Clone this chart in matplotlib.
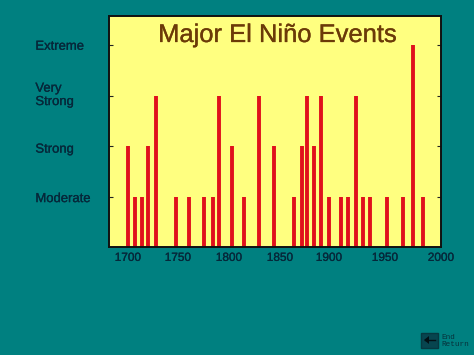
import numpy as np
import matplotlib
matplotlib.use("Agg")
import matplotlib.pyplot as plt
import matplotlib.patheffects as pe
from matplotlib.patches import Rectangle
from matplotlib.transforms import ScaledTranslation

# event years and strength
years = [1700, 1707, 1714, 1720, 1728, 1748, 1761, 1775, 1784, 1790, 1803, 1815, 1829, 1844,
         1864, 1872, 1878, 1885, 1892, 1900, 1911, 1917, 1924, 1930, 1937, 1952, 1966, 1975, 1984]
levels = [2, 1, 1, 2, 3, 1, 1, 1, 1, 3, 2, 1, 3, 2,
          1, 2, 3, 2, 3, 1, 1, 1, 3, 1, 1, 1, 1, 4, 1]
level_ticks = [1, 2, 3, 4]
level_names = ["Moderate", "Strong", "Very\nStrong", "Extreme"]
year_ticks = [1700, 1750, 1800, 1850, 1900, 1950, 2000]
# the original axis is drawn by hand, its labels are not evenly spaced
tick_px = [128, 178, 229, 280, 329, 385, 441]

W, H = 474, 355
TEAL = "#008080"
PALE = "#FFFF80"
RED = "#E0101C"
BROWN = "#6B3A08"
INK = "#06283A"

plt.rcParams["font.family"] = "Liberation Sans"

fig = plt.figure(figsize=(W / 100, H / 100), dpi=100, facecolor=TEAL)
left, right, top, bottom = 109, 441, 16, 247
ax = fig.add_axes([left / W, 1 - bottom / H, (right - left) / W, (bottom - top) / H], facecolor=PALE)

def forward(x):
    return np.interp(x, year_ticks, tick_px, left=tick_px[0] - 19, right=tick_px[-1])

def inverse(p):
    return np.interp(p, tick_px, year_ticks)

ax.set_xscale("function", functions=(forward, inverse))
ax.set_xlim(1681, 2000)
ax.set_ylim(0, 4.58)

ax.vlines(years, 0, levels, color=RED, linewidth=2.8, capstyle="butt")

thicker = [pe.withStroke(linewidth=0.2, foreground=INK)]

ax.set_xticks(year_ticks)
ax.set_xticklabels(year_ticks, fontsize=8.5, color=INK, path_effects=thicker)
ax.minorticks_off()
ax.tick_params(axis="x", length=0, pad=3.5)
ax.set_yticks(level_ticks)
ax.set_yticklabels(level_names, fontsize=9.4, color=INK, linespacing=1.15, path_effects=thicker)
ax.tick_params(axis="y", direction="in", length=3, color="#222222", right=True, pad=53)
# labels do not sit exactly on their ticks in the original
label_shift = [-1, -2, 2.5, 0]
for t, dy in zip(ax.get_yticklabels(), label_shift):
    t.set_horizontalalignment("left")
    t.set_transform(t.get_transform() + ScaledTranslation(0, dy / 100, fig.dpi_scale_trans))

for s in ax.spines.values():
    s.set_color("#101010")
    s.set_linewidth(1.4)

fig.text(277.5 / W, 1 - 35 / H, "Major El Ni\u00f1o Events", fontsize=18.4, color=BROWN,
         ha="center", va="center", path_effects=[pe.withStroke(linewidth=0.2, foreground=BROWN)])

# return button
fig.add_artist(Rectangle((421 / W, 1 - 348 / H), 17 / W, 15 / H, transform=fig.transFigure,
                         facecolor="#07454F", edgecolor="#063840"))
fig.add_artist(plt.Line2D([425 / W, 435 / W], [1 - 340 / H, 1 - 340 / H], color="#021015", linewidth=1))
fig.add_artist(plt.Polygon([[424 / W, 1 - 340 / H], [429 / W, 1 - 336 / H], [429 / W, 1 - 344 / H]],
                           transform=fig.transFigure, facecolor="#021015", edgecolor="none"))
fig.text(441 / W, 1 - 341 / H, "End\nReturn", fontsize=5.5, color="#07303A",
         family="Liberation Mono", ha="left", va="center", linespacing=1.0)

fig.savefig("out.png", dpi=100, facecolor=TEAL)
